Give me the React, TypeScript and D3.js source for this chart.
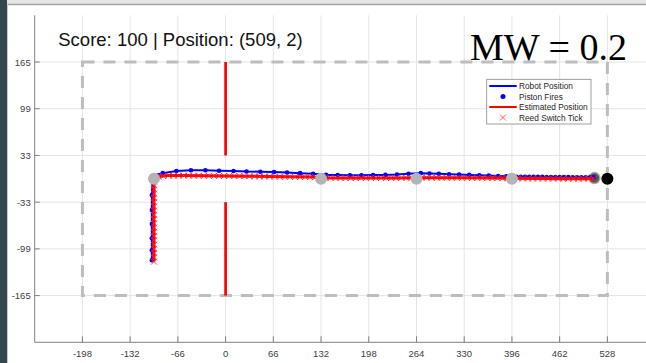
import React from "react";
import * as d3 from "d3";

const W = 646;
const H = 363;

// axis ticks
const xTicks = [-198, -132, -66, 0, 66, 132, 198, 264, 330, 396, 462, 528];
const yTicks = [-165, -99, -33, 33, 99, 165];

// field outline and wall
const fieldX = [-198, 528];
const fieldY = [-165, 165];
const wallTopY = [165, 33];
const wallBottomY = [-33, -165];

// waypoints (gray), end marker and target (black)
const waypointX = [-99, 132, 264, 396];
const waypointY = [0, 0, 0, 0];
const endX = 510;
const endY = 1;
const targetX = 528;
const targetY = 0;

// piston fires
const pistonX = [
  -102, -102, -102, -102, -102, -102,
  -87, -68, -48, -28, -9, 11, 29, 48, 67, 85, 103, 121,
  139, 155, 172, 188, 204, 221, 237, 253,
  270, 282, 295, 309, 323, 337, 351, 364, 377, 388,
  402, 408, 414, 420, 426, 432, 438, 444, 450, 456, 462, 468, 474, 480, 486, 492, 498, 504, 509,
];
const pistonY = [
  -115, -101, -84, -64, -44, -23,
  8, 11, 12, 12, 11.3, 11, 10.3, 10, 9.5, 9, 8, 7,
  5.5, 5.2, 5, 5, 5.2, 5.5, 6, 7,
  8, 7.5, 7, 6.5, 6, 5.5, 5, 4.5, 4, 3.5,
  3, 3, 3, 2.9, 2.8, 2.8, 2.7, 2.6, 2.5, 2.5, 2.4, 2.3, 2.3, 2.2, 2.2, 2.1, 2, 2, 2,
];

// robot position (blue line)
const robotX = [
  -102, -102, -101, -96,
  -87, -68, -48, -28, -9, 11, 29, 48, 67, 85, 103, 121,
  139, 155, 172, 188, 204, 221, 237, 253,
  270, 282, 295, 309, 323, 337, 351, 364, 377, 388,
  402, 420, 438, 456, 474, 492, 509,
];
const robotY = [
  -115, -23, -2, 6,
  8, 11, 12, 12, 11.3, 11, 10.3, 10, 9.5, 9, 8, 7,
  5.5, 5.2, 5, 5, 5.2, 5.5, 6, 7,
  8, 7.5, 7, 6.5, 6, 5.5, 5, 4.5, 4, 3.5,
  3, 2.9, 2.7, 2.5, 2.3, 2.1, 2,
];

// estimated position (red line)
const estX = [-99, -99, -98, -95, -90, -80, -60, -30, 0, 30, 60, 90, 121, 132, 160, 200, 240, 264, 290, 330, 370, 396, 430, 470, 509];
const estY = [-117, -8, -2, 2, 3.5, 4.5, 4.5, 4.3, 4, 3.6, 3.2, 2.8, 2.4, 1.5, 1.2, 1.1, 1.2, 1.4, 1.6, 1.4, 1, 0.6, 0.4, 0.2, 0.2];

// reed switch ticks
const reedX = [
  -99, -99, -99, -99, -99, -99, -99, -99, -99, -99, -99, -99, -99, -99, -99, -99, -99, -99, -99, -99,
  -93, -86, -79, -72, -65, -58, -51, -44, -37, -30, -23, -16, -9, -2, 5, 12, 19, 26, 33, 40, 47, 54, 61, 68, 75, 82, 89, 96, 103, 110, 117, 124, 131,
  138, 145, 152, 159, 166, 173, 180, 187, 194, 201, 208, 215, 222, 229, 236, 243, 250, 257, 264,
  271, 278, 285, 292, 299, 306, 313, 320, 327, 334, 341, 348, 355, 362, 369, 376, 383, 390, 397,
  404, 411, 418, 425, 432, 439, 446, 453, 460, 467, 474, 481, 488, 495, 502, 509,
];
const reedY = [
  -117, -111, -105, -99, -93, -87, -81, -75, -69, -63, -57, -51, -45, -39, -33, -27, -21, -15, -9, -4,
  3, 4, 4.5, 4.5, 4.5, 4.5, 4.5, 4.4, 4.4, 4.3, 4.3, 4.2, 4.1, 4, 4, 3.9, 3.8, 3.7, 3.6, 3.5, 3.4, 3.3, 3.2, 3.1, 3, 2.9, 2.8, 2.7, 2.6, 2.5, 2.4, 2.2, 1.8,
  1.4, 1.3, 1.2, 1.2, 1.1, 1.1, 1.1, 1.1, 1.1, 1.1, 1.1, 1.2, 1.2, 1.2, 1.2, 1.3, 1.3, 1.4, 1.4,
  1.6, 1.6, 1.6, 1.6, 1.6, 1.5, 1.5, 1.5, 1.4, 1.4, 1.3, 1.2, 1.2, 1.1, 1, 1, 0.9, 0.8, 0.6,
  0.5, 0.5, 0.4, 0.4, 0.4, 0.3, 0.3, 0.3, 0.3, 0.2, 0.2, 0.2, 0.2, 0.2, 0.2, 0.2,
];

const legendItems = ["Robot Position", "Piston Fires", "Estimated Position", "Reed Switch Tick"];

const sans = "'Liberation Sans', Arial, Helvetica, sans-serif";
const serif = "'Liberation Serif', 'Times New Roman', serif";

export default function App() {
  const x = d3.scaleLinear().domain([-264, 594]).range([34.7, 655.1]);
  const y = d3.scaleLinear().domain([-231, 231]).range([342.3, 15.3]);
  const [left, right] = x.range();
  const [bottom, top] = y.range();

  const line = d3
    .line<[number, number]>()
    .x((d) => x(d[0]))
    .y((d) => y(d[1]));

  const robotPts = robotX.map((v, i) => [v, robotY[i]] as [number, number]);
  const estPts = estX.map((v, i) => [v, estY[i]] as [number, number]);
  const cross = "M-3,-3L3,3M-3,3L3,-3";

  const legX = 486.7;
  const legY = 79.3;
  const rowY = [86, 96.5, 107, 117.5];

  return (
    <svg width={W} height={H} style={{ position: "absolute", left: 0, top: 0, background: "#fff" }}>
      {/* window frame */}
      <rect x={0} y={0} width={W} height={4} fill="#e6e6e6" />
      <line x1={0} x2={W} y1={4.5} y2={4.5} stroke="#a3a3a3" strokeWidth={1.5} />
      <rect x={0} y={0} width={7} height={H} fill="#34474f" />
      <line x1={7.5} x2={7.5} y1={4} y2={H} stroke="#c8c8c8" strokeWidth={1} />

      {/* grid */}
      <g stroke="#e4e4e4" strokeWidth={1}>
        {xTicks.map((t) => (
          <line key={"gx" + t} x1={x(t)} x2={x(t)} y1={top} y2={bottom} />
        ))}
        {yTicks.map((t) => (
          <line key={"gy" + t} x1={left} x2={W} y1={y(t)} y2={y(t)} />
        ))}
      </g>

      {/* axes */}
      <g stroke="#808080" strokeWidth={1}>
        <line x1={left} x2={left} y1={top} y2={bottom} />
        <line x1={left} x2={W} y1={bottom} y2={bottom} />
        {xTicks.map((t) => (
          <line key={"tx" + t} x1={x(t)} x2={x(t)} y1={bottom} y2={bottom - 6} />
        ))}
        {yTicks.map((t) => (
          <line key={"ty" + t} x1={left} x2={left + 5} y1={y(t)} y2={y(t)} />
        ))}
      </g>
      <g fontFamily={sans} fontSize={9.5} fill="#404040">
        {xTicks.map((t) => (
          <text key={"lx" + t} x={x(t)} y={356.5} textAnchor="middle">
            {t}
          </text>
        ))}
        {yTicks.map((t) => (
          <text key={"ly" + t} x={left - 4} y={y(t)} textAnchor="end" dominantBaseline="central">
            {t}
          </text>
        ))}
      </g>

      {/* field boundary */}
      <rect
        x={x(fieldX[0])}
        y={y(fieldY[1])}
        width={x(fieldX[1]) - x(fieldX[0])}
        height={y(fieldY[0]) - y(fieldY[1])}
        fill="none"
        stroke="#bdbdbd"
        strokeWidth={3}
        strokeDasharray="12 9"
      />

      {/* wall */}
      <g stroke="#ff0000" strokeWidth={2.7}>
        <line x1={x(0)} x2={x(0)} y1={y(wallTopY[0])} y2={y(wallTopY[1])} />
        <line x1={x(0)} x2={x(0)} y1={y(wallBottomY[0])} y2={y(wallBottomY[1])} />
      </g>

      <circle cx={x(endX)} cy={y(endY)} r={5.5} fill="#555" stroke="#a8a8a8" strokeWidth={1.5} />

      {/* robot path */}
      <path d={line(robotPts) || ""} fill="none" stroke="#0000ff" strokeWidth={2} />
      {pistonX.map((v, i) => (
        <circle key={"p" + i} cx={x(v)} cy={y(pistonY[i])} r={2.3} fill="#0000ff" />
      ))}

      {/* estimate */}
      <path d={line(estPts) || ""} fill="none" stroke="#ff0000" strokeWidth={3} />
      <g stroke="#ff2020" strokeWidth={1} strokeOpacity={0.85} fill="none">
        {reedX.map((v, i) => (
          <path key={"r" + i} d={cross} transform={`translate(${x(v)},${y(reedY[i])})`} />
        ))}
      </g>

      {/* waypoints */}
      {waypointX.map((v, i) => (
        <circle key={"w" + i} cx={x(v)} cy={y(waypointY[i])} r={6} fill="#b4b4b4" />
      ))}
      <circle cx={x(targetX)} cy={y(targetY)} r={6} fill="#000" />

      {/* title */}
      <text x={180.5} y={46} textAnchor="middle" fontFamily={sans} fontSize={18.5} fill="#111">
        Score: 100 | Position: (509, 2)
      </text>
      <text x={470} y={60} fontFamily={serif} fontSize={38} fill="#000">
        MW = 0.2
      </text>

      {/* legend */}
      <rect x={legX} y={legY} width={104.3} height={44.7} fill="#fff" stroke="#888" strokeWidth={0.8} />
      <line x1={489.3} x2={516.7} y1={rowY[0]} y2={rowY[0]} stroke="#0000ff" strokeWidth={2} />
      <circle cx={503} cy={rowY[1]} r={2.5} fill="#0000ff" />
      <line x1={489.3} x2={516.7} y1={rowY[2]} y2={rowY[2]} stroke="#ff0000" strokeWidth={2} />
      <path d={cross} transform={`translate(503,${rowY[3]})`} stroke="#ff3030" strokeWidth={0.8} fill="none" />
      <g fontFamily={sans} fontSize={8.3} fill="#262626">
        {legendItems.map((s, i) => (
          <text key={s} x={519} y={rowY[i]} dominantBaseline="central">
            {s}
          </text>
        ))}
      </g>
    </svg>
  );
}
